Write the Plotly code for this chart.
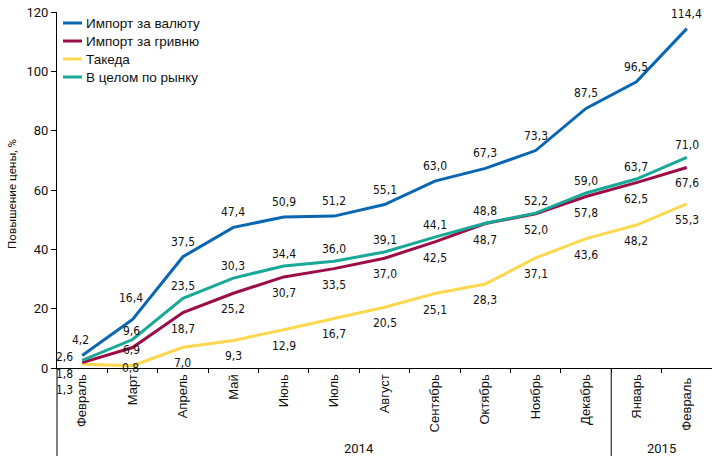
import plotly.graph_objects as go

months = ["Февраль", "Март", "Апрель", "Май", "Июнь", "Июль", "Август",
          "Сентябрь", "Октябрь", "Ноябрь", "Декабрь", "Январь", "Февраль "]
years = ["2014", "2015"]

import_fx = [4.2, 16.4, 37.5, 47.4, 50.9, 51.2, 55.1, 63.0, 67.3, 73.3, 87.5, 96.5, 114.4]
import_uah = [1.8, 6.9, 18.7, 25.2, 30.7, 33.5, 37.0, 42.5, 48.7, 52.0, 57.8, 62.5, 67.6]
takeda = [1.3, 0.8, 7.0, 9.3, 12.9, 16.7, 20.5, 25.1, 28.3, 37.1, 43.6, 48.2, 55.3]
market = [2.6, 9.6, 23.5, 30.3, 34.4, 36.0, 39.1, 44.1, 48.8, 52.2, 59.0, 63.7, 71.0]

names = ["Импорт за валюту", "Импорт за гривню", "Такеда", "В целом по рынку"]
series = [import_fx, import_uah, takeda, market]
colors = ["#0866b3", "#9c0c47", "#fdd84e", "#17a898"]
label_shift = [15, -16, -16, 12]
# per-point label adjustments (series index, point index): (xshift, yshift)
special = {
    (0, 0): (-2, 16), (0, 1): (-2, 21),
    (3, 0): (-18, 3), (1, 0): (-18, -11), (2, 0): (-18, -26),
    (3, 1): (-1, 9), (1, 1): (-1, -2), (2, 1): (-2, -2),
}

x = list(range(len(months)))
fig = go.Figure()
draw_order = [2, 1, 3, 0]
for i in draw_order:
    fig.add_trace(go.Scatter(x=x, y=series[i], mode="lines", name=names[i],
                             line=dict(color=colors[i], width=3),
                             showlegend=False, hoverinfo="skip"))

lab_font = dict(family="Liberation Sans Narrow, DejaVu Sans Condensed, Arial Narrow, sans-serif",
                size=12, color="#111111")
annotations = []
for i, s in enumerate(series):
    for j, v in enumerate(s):
        xs, ys = special.get((i, j), (0, label_shift[i]))
        annotations.append(dict(x=j, y=v, xref="x", yref="y",
                                text=f"{v:.1f}".replace(".", ","),
                                showarrow=False, xshift=xs, yshift=ys,
                                xanchor="center", yanchor="middle",
                                font=lab_font))

H = 356.0
W = 655.0
T = 12.0


def py(pix):
    return 1 - (pix - T) / H


# custom legend
leg_font = dict(family="Liberation Sans, Arial, sans-serif", size=13.5, color="#111111")
shapes = []
for k, nm in enumerate(names):
    yp = py(23 + k * 18)
    shapes.append(dict(type="line", xref="paper", yref="paper",
                       x0=(63 - 57) / W, x1=(82 - 57) / W, y0=yp, y1=yp,
                       line=dict(color=colors[k], width=3)))
    annotations.append(dict(x=(84 - 57) / W, y=yp, xref="paper", yref="paper",
                            text=nm, showarrow=False, xanchor="left", yanchor="middle",
                            font=leg_font))

# y-axis title
annotations.append(dict(x=-(57 - 12) / W, y=py(194), xref="paper", yref="paper",
                        text="Повышение цены, %", textangle=-90, showarrow=False,
                        xanchor="center", yanchor="middle",
                        font=dict(family="Roboto, Arial, sans-serif", size=11.5, color="#111111")))

# lower frame lines
bottom = py(456)
shapes.append(dict(type="line", xref="paper", yref="paper", x0=0, x1=0, y0=0, y1=bottom,
                   line=dict(color="#000000", width=1)))
shapes.append(dict(type="line", xref="x", yref="paper", x0=10.5, x1=10.5, y0=0, y1=bottom,
                   line=dict(color="#000000", width=1)))

year_font = dict(family="Roboto, Liberation Sans Narrow, sans-serif",
                 size=13, color="#111111")
annotations.append(dict(x=5.5, y=py(448), xref="x", yref="paper", text=years[0],
                        showarrow=False, xanchor="center", yanchor="middle", font=year_font))
annotations.append(dict(x=11.5, y=py(448), xref="x", yref="paper", text=years[1],
                        showarrow=False, xanchor="center", yanchor="middle", font=year_font))

fig.update_layout(
    width=715, height=461,
    margin=dict(l=57, r=3, t=12, b=93, autoexpand=False),
    plot_bgcolor="white", paper_bgcolor="white",
    annotations=annotations, shapes=shapes,
    showlegend=False,
)
fig.update_xaxes(
    type="linear", range=[-0.5, 12.5], automargin=False,
    tickmode="array", tickvals=x, ticktext=months, tickangle=-90,
    ticks="", showline=True, linecolor="#000000", linewidth=1,
    showgrid=False, zeroline=False,
    tickfont=dict(family="Liberation Sans, Arial, sans-serif", size=13, color="#111111"),
    minor=dict(tickmode="array", tickvals=[k + 0.5 for k in range(12)],
               ticks="outside", ticklen=4, tickcolor="#000000", showgrid=False),
)
fig.update_yaxes(
    range=[0, 120], tickvals=[0, 20, 40, 60, 80, 100, 120], automargin=False,
    ticks="outside", ticklen=5, tickcolor="#000000",
    showline=True, linecolor="#000000", linewidth=1,
    showgrid=False, zeroline=False,
    tickfont=dict(family="Roboto, Arial, sans-serif", size=13, color="#111111"),
)

fig.write_html("out.html", config={"displayModeBar": False},
               post_script="document.body.style.margin='0px';document.body.style.overflow='hidden';")
